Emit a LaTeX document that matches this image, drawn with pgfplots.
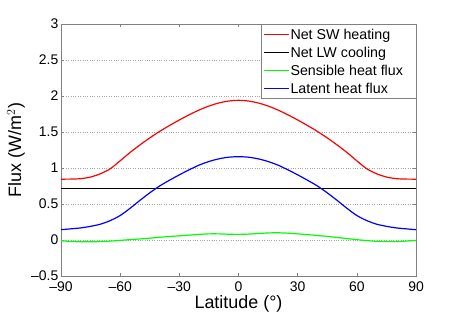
\documentclass[border=0pt]{standalone}
\usepackage{pgfplots}
\pgfplotsset{compat=1.18}
\usepackage{fontspec}
\setmainfont{Liberation Sans}
\begin{document}
\begin{tikzpicture}
\useasboundingbox (-61bp,-38bp) rectangle (399bp,276bp);
\begin{axis}[
  at={(0,0)}, anchor=south west,
  scale only axis, width=355bp, height=252bp,
  xmin=-90, xmax=90, ymin=-0.5, ymax=3,
  xtick={-90,-60,-30,0,30,60,90},
  xticklabels={\textendash90,\textendash60,\textendash30,0,30,60,90},
  ytick={-0.5,0,0.5,1,1.5,2,2.5,3},
  yticklabels={\textendash0.5,0,0.5,1,1.5,2,2.5,3},
  tick align=inside, major tick length=3bp,
  axis line style={black!50, line width=0.6bp},
  every tick/.style={black!50, line width=0.5bp},
  ymajorgrids, major grid style={dotted, black!35, line width=0.5bp},
  tick label style={font=\fontsize{14}{16}\selectfont},
  xticklabel style={anchor=base, inner sep=0pt, yshift=-15.7bp},
  yticklabel style={anchor=east, inner sep=0pt, xshift=-2.5bp},
  xlabel={Latitude (°)},
  ylabel={Flux (W/m$^2$)},
  label style={font=\fontsize{18}{20}\selectfont},
  xlabel style={at={(axis description cs:0.5,0)}, anchor=base, inner sep=0pt, yshift=-32.3bp},
  ylabel style={at={(axis description cs:-0.1014,0.5)}, anchor=south, inner sep=0pt},
  legend style={at={(1,1)}, anchor=north east, draw=black!50, line width=0.5bp,
    font=\fontsize{14.3}{16}\selectfont, inner xsep=2bp, inner ysep=2.3bp, row sep=2.6bp,
    nodes={inner sep=0.8bp, text height=12.6bp, text depth=1.2bp},
    cells={anchor=west}},
  legend image code/.code={\draw[#1] (0bp,0bp) -- (25bp,0bp);},
]
\addplot[red, line width=1.2bp, smooth] coordinates {
(-90,0.845)(-85,0.846)(-80,0.852)(-75,0.875)(-70,0.92)(-65,0.99)(-60,1.10)(-55,1.215)(-50,1.32)(-45,1.418)(-40,1.508)(-35,1.59)(-30,1.667)(-25,1.739)(-20,1.805)(-15,1.861)(-10,1.903)(-5,1.93)(0,1.94)
(5,1.93)(10,1.903)(15,1.861)(20,1.805)(25,1.739)(30,1.667)(35,1.59)(40,1.508)(45,1.418)(50,1.32)(55,1.215)(60,1.10)(65,0.99)(70,0.92)(75,0.875)(80,0.852)(85,0.846)(90,0.845)};
\addlegendentry{Net SW heating}
\addplot[black, line width=1.2bp] coordinates {(-90,0.71)(90,0.71)};
\addlegendentry{Net LW cooling}
\addplot[green, line width=1.2bp, smooth] coordinates {
(-90,-0.01)(-85,-0.02)(-80,-0.025)(-75,-0.025)(-70,-0.022)(-65,-0.015)(-60,-0.005)(-55,0.005)(-50,0.015)(-45,0.025)(-40,0.038)(-35,0.048)(-30,0.058)(-25,0.068)(-20,0.078)(-15,0.085)(-10,0.085)(-5,0.08)(0,0.078)
(5,0.082)(10,0.09)(15,0.098)(20,0.1)(25,0.095)(30,0.085)(35,0.075)(40,0.062)(45,0.05)(50,0.035)(55,0.02)(60,0.005)(65,-0.008)(70,-0.018)(75,-0.022)(80,-0.022)(85,-0.015)(90,-0.005)};
\addlegendentry{Sensible heat flux\hspace{10bp}\null}
\addplot[blue, line width=1.2bp, smooth] coordinates {
(-90,0.143)(-85,0.155)(-80,0.168)(-75,0.19)(-70,0.22)(-65,0.27)(-60,0.34)(-55,0.44)(-50,0.55)(-45,0.655)(-40,0.75)(-35,0.83)(-30,0.905)(-25,0.975)(-20,1.04)(-15,1.09)(-10,1.127)(-5,1.15)(0,1.157)
(5,1.15)(10,1.127)(15,1.09)(20,1.04)(25,0.975)(30,0.905)(35,0.83)(40,0.75)(45,0.655)(50,0.55)(55,0.44)(60,0.34)(65,0.27)(70,0.22)(75,0.19)(80,0.168)(85,0.155)(90,0.143)};
\addlegendentry{Latent heat flux}
\end{axis}
\end{tikzpicture}
\end{document}
